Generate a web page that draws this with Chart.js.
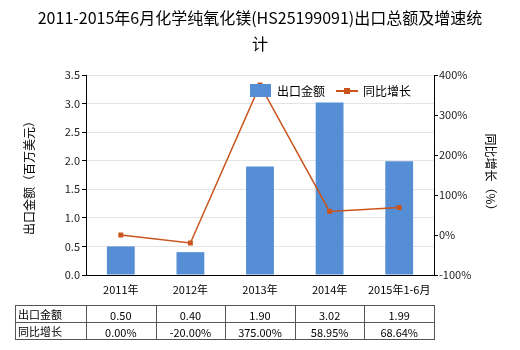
<!DOCTYPE html>
<html>
<head>
<meta charset="utf-8">
<script src="https://cdn.jsdelivr.net/npm/chart.js@4/dist/chart.umd.min.js"></script>
<style>
  html, body { margin: 0; padding: 0; background: #fff; }
  #wrap { width: 520px; height: 350px; position: relative; }
</style>
</head>
<body>
<div id="wrap"><canvas id="chart1"></canvas></div>
<script>
const years = ['2011年', '2012年', '2013年', '2014年', '2015年1-6月']
const exportValue = [0.50, 0.40, 1.90, 3.02, 1.99]
const growthRate = [0.00, -20.00, 375.00, 58.95, 68.64]
const exportText = ['0.50', '0.40', '1.90', '3.02', '1.99']
const growthText = ['0.00%', '-20.00%', '375.00%', '58.95%', '68.64%']

const titleLines = ['2011-2015年6月化学纯氧化镁(HS25199091)出口总额及增速统', '计']
const barName = '出口金额'
const lineName = '同比增长'
const font = '"Noto Sans CJK SC", "Noto Sans", sans-serif'

const barColor = '#558ed5'
const lineColor = '#c8541c'

// title, legend and the data table under the x axis
const extras = {
    id: 'extras',
    afterDraw(chart) {
        const c = chart.ctx
        const x = chart.scales.x
        c.save()

        // title
        c.fillStyle = '#000'
        c.font = '16px ' + font
        c.textAlign = 'center'
        c.textBaseline = 'middle'
        c.fillText(titleLines[0], 260, 18)
        c.fillText(titleLines[1], 260, 44)

        // legend
        c.font = '12px ' + font
        c.textAlign = 'left'
        c.fillStyle = barColor
        c.fillRect(250, 84, 21, 13)
        c.fillStyle = '#000'
        c.fillText(barName, 277, 91)
        c.strokeStyle = lineColor
        c.lineWidth = 2
        c.beginPath()
        c.moveTo(336, 91)
        c.lineTo(358, 91)
        c.stroke()
        c.fillStyle = lineColor
        c.fillRect(344, 88, 6, 6)
        c.fillStyle = '#000'
        c.fillText(lineName, 363, 91)

        // table
        const top = 305, rowH = 17, left = 15
        const half = (x.getPixelForValue(1) - x.getPixelForValue(0)) / 2
        const right = x.getPixelForValue(years.length - 1) + half
        c.strokeStyle = '#555'
        c.lineWidth = 1
        c.strokeRect(left + 0.5, top + 0.5, right - left, rowH * 2)
        c.beginPath()
        c.moveTo(left, top + rowH + 0.5)
        c.lineTo(right, top + rowH + 0.5)
        for (let i = 0; i < years.length; i++) {
            const bx = Math.round(x.getPixelForValue(i) - half) + 0.5
            c.moveTo(bx, top)
            c.lineTo(bx, top + rowH * 2)
        }
        c.stroke()

        c.font = '11px ' + font
        c.fillStyle = '#000'
        c.textAlign = 'left'
        c.fillText(barName, left + 3, top + rowH / 2 + 1)
        c.fillText(lineName, left + 3, top + rowH * 1.5 + 1)
        c.textAlign = 'center'
        for (let i = 0; i < years.length; i++) {
            const cx = x.getPixelForValue(i)
            c.fillText(exportText[i], cx, top + rowH / 2 + 2)
            c.fillText(growthText[i], cx, top + rowH * 1.5 + 2)
        }
        c.restore()
    }
}

new Chart(document.getElementById('chart1'), {
    type: 'bar',
    data: {
        labels: years,
        datasets: [{
            type: 'line',
            label: lineName,
            data: growthRate,
            yAxisID: 'y1',
            borderColor: lineColor,
            backgroundColor: lineColor,
            borderWidth: 1.5,
            pointStyle: 'rect',
            pointRadius: 3.5,
            pointBorderWidth: 0,
            tension: 0,
            order: 0
        }, {
            label: barName,
            data: exportValue,
            yAxisID: 'y',
            backgroundColor: barColor,
            categoryPercentage: 1,
            barPercentage: 0.4,
            order: 1
        }]
    },
    options: {
        responsive: true,
        maintainAspectRatio: false,
        animation: false,
        layout: { padding: { top: 75, left: 0, right: 0, bottom: 0 } },
        plugins: {
            legend: { display: false },
            title: { display: false },
            tooltip: { enabled: false }
        },
        scales: {
            x: {
                grid: { display: false, drawTicks: true, tickLength: 5, tickColor: '#000' },
                border: { color: '#000' },
                ticks: { color: '#000', font: { size: 11, family: font }, padding: 3, maxRotation: 0 },
                afterFit(s) { s.height = 75 }
            },
            y: {
                position: 'left',
                min: 0,
                max: 3.5,
                ticks: {
                    stepSize: 0.5,
                    color: '#222',
                    font: { size: 11, family: font },
                    padding: 2,
                    callback: v => v.toFixed(1)
                },
                grid: { color: '#e4e4e4', tickColor: '#000', tickLength: 4 },
                border: { color: '#000' },
                title: {
                    display: true, text: '出口金额（百万美元）', color: '#000',
                    font: { size: 12, family: font }, padding: { top: 22, bottom: 0 }
                },
                afterFit(s) { s.width = 86 }
            },
            y1: {
                position: 'right',
                min: -100,
                max: 400,
                ticks: {
                    stepSize: 100,
                    color: '#222',
                    font: { size: 11, family: font },
                    padding: 1,
                    callback: v => v + '%'
                },
                grid: { drawOnChartArea: false, tickColor: '#000', tickLength: 4 },
                border: { color: '#000' },
                title: {
                    display: true, text: '同比增长（%）', color: '#000',
                    font: { size: 12, family: font }, padding: { top: 22, bottom: 0 }
                },
                afterFit(s) { s.width = 86 }
            }
        }
    },
    plugins: [extras]
})
</script>
</body>
</html>
